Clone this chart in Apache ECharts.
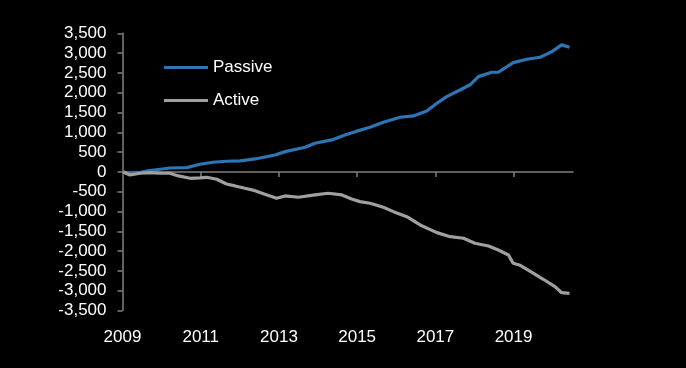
<!DOCTYPE html>
<html>
<head>
<meta charset="utf-8">
<script src="https://cdn.jsdelivr.net/npm/echarts@6/dist/echarts.min.js"></script>
<style>
html,body{margin:0;padding:0;background:#000;}
#chart{width:686px;height:368px;}
</style>
</head>
<body>
<div id="chart"></div>
<script>
// Data (cumulative flows)
var passiveYears  = [2009.02,2009.19,2009.45,2009.70,2009.96,2010.21,2010.64,2010.98,2011.31,2011.66,2012.01,2012.39,2012.90,2013.16,2013.67,2013.92,2014.35,2014.69,2014.99,2015.33,2015.67,2016.10,2016.44,2016.78,2017.04,2017.29,2017.63,2017.89,2018.10,2018.44,2018.61,2018.99,2019.34,2019.68,2019.98,2020.23,2020.43];
var passiveValues = [0,-33,-8,33,68,100,110,194,245,270,280,328,429,513,623,724,808,934,1030,1128,1254,1380,1414,1540,1734,1901,2070,2200,2406,2517,2517,2760,2845,2896,3038,3207,3149];
var activeYears   = [2009.02,2009.19,2009.45,2009.70,2009.96,2010.21,2010.43,2010.73,2010.98,2011.15,2011.41,2011.66,2011.88,2012.13,2012.39,2012.64,2012.94,2013.16,2013.50,2013.92,2014.26,2014.61,2014.86,2015.07,2015.33,2015.67,2015.93,2016.27,2016.61,2017.04,2017.38,2017.72,2018.01,2018.36,2018.61,2018.87,2018.99,2019.17,2019.47,2019.76,2020.06,2020.23,2020.43];
var activeValues  = [0,-76,-33,-17,-33,-33,-100,-160,-150,-135,-185,-303,-353,-412,-472,-563,-664,-606,-639,-580,-538,-580,-682,-749,-790,-891,-1002,-1129,-1338,-1532,-1634,-1674,-1800,-1869,-1970,-2096,-2306,-2356,-2533,-2709,-2896,-3048,-3063];
var xTickYears  = [2011,2013,2015,2017,2019];
var xLabelYears = [2009,2011,2013,2015,2017,2019];
var seriesNames = ['Passive','Active'];

function zip(a,b){var r=[];for(var i=0;i<a.length;i++){r.push([a[i],b[i]]);}return r;}

var chart = echarts.init(document.getElementById('chart'));
var FONT = 'Liberation Sans, Arial, sans-serif';
chart.setOption({
  animation:false,
  backgroundColor:'#000000',
  grid:{left:122.5,right:113,top:33.3,bottom:57.4,containLabel:false},
  legend:{
    orient:'vertical',left:159,top:54,itemWidth:44,itemHeight:3,itemGap:16,icon:'rect',
    data:seriesNames,
    textStyle:{color:'#ffffff',fontSize:17,fontFamily:FONT}
  },
  xAxis:[{
    type:'value',min:2009,max:2020.52,position:'top',
    axisLine:{show:true,onZero:true,lineStyle:{color:'#808080',width:1.5}},
    axisTick:{show:true,inside:true,length:5,customValues:xTickYears,lineStyle:{color:'#808080',width:1.5}},
    axisLabel:{show:false},
    splitLine:{show:false}
  },{
    type:'value',min:2009,max:2020.52,position:'bottom',
    axisLine:{show:false,onZero:false},
    axisTick:{show:false},
    axisLabel:{show:true,customValues:xLabelYears,margin:18,color:'#ffffff',fontSize:17,fontFamily:FONT,
      formatter:function(v){return String(v);}},
    splitLine:{show:false}
  }],
  yAxis:{
    type:'value',min:-3500,max:3500,interval:500,
    axisLine:{show:true,lineStyle:{color:'#808080',width:1.5}},
    axisTick:{show:true,length:5,lineStyle:{color:'#808080',width:1.5}},
    axisLabel:{color:'#ffffff',fontSize:17,fontFamily:FONT,margin:16,
      formatter:function(v){return v.toLocaleString('en-US');}},
    splitLine:{show:false}
  },
  series:[{
    name:seriesNames[0],type:'line',xAxisIndex:0,data:zip(passiveYears,passiveValues),
    showSymbol:false,symbol:'none',color:'#2e75b6',lineStyle:{width:3.2,color:'#2e75b6'}
  },{
    name:seriesNames[1],type:'line',xAxisIndex:0,data:zip(activeYears,activeValues),
    showSymbol:false,symbol:'none',color:'#a0a0a0',lineStyle:{width:3.2,color:'#a0a0a0'}
  }]
});
</script>
</body>
</html>
